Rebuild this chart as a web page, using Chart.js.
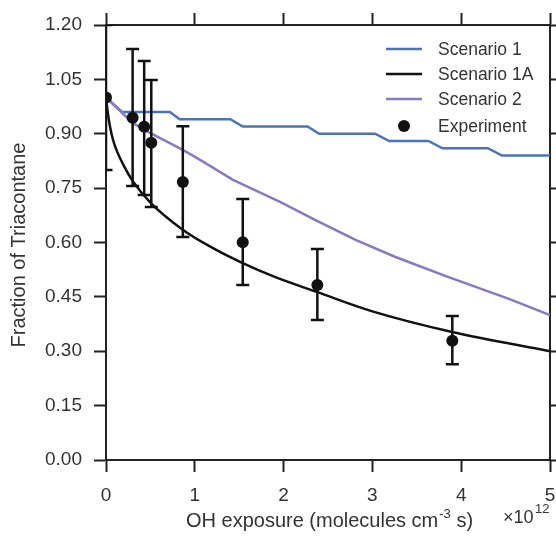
<!DOCTYPE html>
<html>
<head>
<meta charset="utf-8">
<script src="https://cdn.jsdelivr.net/npm/chart.js@4.4.0/dist/chart.umd.min.js"></script>
<style>
html, body { margin: 0; padding: 0; background: #fff; }
#chart { display: block; }
</style>
</head>
<body>
<canvas id="chart" width="556" height="540"></canvas>
<script>
// values (x in units of 1e12 molecules cm-3 s)
const s1X = [0, 0.18, 0.72, 0.83, 1.40, 1.54, 2.27, 2.40, 3.03, 3.19, 3.63, 3.79, 4.30, 4.46, 5.0];
const s1Y = [1.0, 0.96, 0.96, 0.94, 0.94, 0.92, 0.92, 0.90, 0.90, 0.88, 0.88, 0.86, 0.86, 0.84, 0.84];

const s1aX = [0, 0.02, 0.045, 0.08, 0.13, 0.2, 0.3, 0.5, 0.86, 1.2, 1.54, 1.9, 2.38, 3.0, 3.9, 5.0];
const s1aY = [1.0, 0.958, 0.92, 0.882, 0.848, 0.812, 0.77, 0.71, 0.636, 0.585, 0.543, 0.505, 0.463, 0.41, 0.353, 0.30];

const s2X = [0, 0.30, 0.49, 0.87, 1.06, 1.43, 1.96, 2.36, 2.81, 3.26, 3.85, 4.53, 5.0];
const s2Y = [1.0, 0.93, 0.903, 0.855, 0.828, 0.773, 0.712, 0.662, 0.607, 0.56, 0.505, 0.445, 0.40];

const expX = [0, 0.30, 0.43, 0.51, 0.865, 1.54, 2.38, 3.90];
const expY = [1.0, 0.944, 0.919, 0.875, 0.767, 0.601, 0.483, 0.329];
const errLow = [0.80, 0.756, 0.731, 0.698, 0.615, 0.483, 0.386, 0.264];
const errHigh = [1.20, 1.134, 1.101, 1.048, 0.921, 0.72, 0.582, 0.397];

const xTicks = [0, 1, 2, 3, 4, 5];
const yTickStep = 0.15;

const seriesNames = ['Scenario 1', 'Scenario 1A', 'Scenario 2', 'Experiment'];

const BLUE = '#4a73b8';
const BLACK = '#111111';
const PURPLE = '#8a78c2';
const AXIS = '#222222';
const TEXT = '#333333';
const FONT = 'Liberation Sans, Arial, Helvetica, sans-serif';

function pts(xs, ys) {
	return xs.map((x, i) => ({x: x, y: ys[i]}));
}

// error bars, drawn just before the experiment points
const errorBars = {
	id: 'errorBars',
	beforeDatasetDraw(chart, args) {
		if (args.index !== 3) return;
		const {ctx, chartArea, scales} = chart;
		ctx.save();
		ctx.beginPath();
		ctx.rect(chartArea.left, chartArea.top, chartArea.right - chartArea.left, chartArea.bottom - chartArea.top);
		ctx.clip();
		ctx.strokeStyle = BLACK;
		ctx.lineWidth = 2.5;
		for (let i = 0; i < expX.length; i++) {
			const px = scales.x.getPixelForValue(expX[i]);
			const lo = scales.y.getPixelForValue(errLow[i]);
			const hi = scales.y.getPixelForValue(errHigh[i]);
			ctx.beginPath();
			ctx.moveTo(px, lo); ctx.lineTo(px, hi);
			ctx.moveTo(px - 6.5, lo); ctx.lineTo(px + 6.5, lo);
			ctx.moveTo(px - 6.5, hi); ctx.lineTo(px + 6.5, hi);
			ctx.stroke();
		}
		ctx.restore();
	}
};

// legend inside the plot, axis titles with superscripts
const extras = {
	id: 'extras',
	afterDraw(chart) {
		const ctx = chart.ctx;
		ctx.save();
		ctx.font = '17.5px ' + FONT;
		ctx.fillStyle = TEXT;
		ctx.textBaseline = 'middle';
		ctx.textAlign = 'left';
		const rows = [49, 74, 99, 126];
		chart.data.datasets.forEach((ds, i) => {
			const y = rows[i];
			if (ds.showLine) {
				ctx.strokeStyle = ds.borderColor;
				ctx.lineWidth = 2.5;
				ctx.beginPath();
				ctx.moveTo(386, y); ctx.lineTo(422, y);
				ctx.stroke();
			} else {
				ctx.fillStyle = ds.backgroundColor;
				ctx.beginPath();
				ctx.arc(404, y, 6, 0, Math.PI * 2);
				ctx.fill();
			}
			ctx.fillStyle = TEXT;
			ctx.fillText(ds.label, 438, y + 1);
		});

		// y title
		ctx.save();
		ctx.font = '20px ' + FONT;
		ctx.translate(19, 245);
		ctx.rotate(-Math.PI / 2);
		ctx.textAlign = 'center';
		ctx.textBaseline = 'middle';
		ctx.fillText('Fraction of Triacontane', 0, 0);
		ctx.restore();

		// x title with superscript
		ctx.textBaseline = 'alphabetic';
		const a = 'OH exposure (molecules cm', sup = '-3', b = ' s)';
		ctx.font = '20px ' + FONT;
		const wa = ctx.measureText(a).width, wb = ctx.measureText(b).width;
		ctx.font = '13px ' + FONT;
		const ws = ctx.measureText(sup).width;
		let x = 329 - (wa + ws + wb) / 2;
		const base = 527;
		ctx.font = '20px ' + FONT;
		ctx.fillText(a, x, base);
		x += wa;
		ctx.font = '13px ' + FONT;
		ctx.fillText(sup, x + 1, base - 9);
		x += ws + 1;
		ctx.font = '20px ' + FONT;
		ctx.fillText(b, x, base);

		// exponent
		ctx.font = '18px ' + FONT;
		ctx.fillText('\u00d710', 503, 523);
		ctx.font = '13px ' + FONT;
		ctx.fillText('12', 535, 513);
		ctx.restore();
	}
};

const gridStyle = {
	display: true,
	drawOnChartArea: false,
	drawTicks: true,
	tickLength: 12,
	tickWidth: 2,
	tickColor: AXIS,
	color: AXIS
};
const borderStyle = {display: true, color: AXIS, width: 2};

function fixX(height) {
	return s => { s.height = height; s.paddingLeft = 0; s.paddingRight = 0; };
}
function fixY(width) {
	return s => { s.width = width; s.paddingTop = 0; s.paddingBottom = 0; };
}

new Chart(document.getElementById('chart'), {
	type: 'scatter',
	data: {
		datasets: [
			{label: seriesNames[0], data: pts(s1X, s1Y), showLine: true, borderColor: BLUE, borderWidth: 2.5, pointRadius: 0, order: 3},
			{label: seriesNames[1], data: pts(s1aX, s1aY), showLine: true, borderColor: BLACK, borderWidth: 2.5, pointRadius: 0, cubicInterpolationMode: 'monotone', order: 2},
			{label: seriesNames[2], data: pts(s2X, s2Y), showLine: true, borderColor: PURPLE, borderWidth: 2.5, pointRadius: 0, order: 1},
			{label: seriesNames[3], data: pts(expX, expY), showLine: false, backgroundColor: BLACK, borderColor: BLACK, pointRadius: 6, borderWidth: 0, order: 0, clip: 0}
		]
	},
	options: {
		responsive: false,
		animation: false,
		layout: {padding: 0},
		plugins: {legend: {display: false}, tooltip: {enabled: false}},
		scales: {
			x: {
				type: 'linear', position: 'bottom', min: 0, max: 5,
				afterBuildTicks: s => { s.ticks = xTicks.map(v => ({value: v})); },
				ticks: {font: {family: FONT, size: 19}, color: TEXT, padding: 12},
				grid: gridStyle, border: borderStyle,
				afterFit: fixX(80)
			},
			x2: {
				type: 'linear', position: 'top', min: 0, max: 5,
				afterBuildTicks: s => { s.ticks = xTicks.map(v => ({value: v})); },
				ticks: {display: false},
				grid: gridStyle, border: borderStyle,
				afterFit: fixX(25)
			},
			y: {
				type: 'linear', position: 'left', min: 0, max: 1.2,
				ticks: {stepSize: yTickStep, font: {family: FONT, size: 19}, color: TEXT, padding: 12, callback: v => v.toFixed(2)},
				grid: gridStyle, border: borderStyle,
				afterFit: fixY(106)
			},
			y2: {
				type: 'linear', position: 'right', min: 0, max: 1.2,
				ticks: {display: false, stepSize: yTickStep},
				grid: gridStyle, border: borderStyle,
				afterFit: fixY(5)
			}
		}
	},
	plugins: [errorBars, extras]
});
</script>
</body>
</html>
